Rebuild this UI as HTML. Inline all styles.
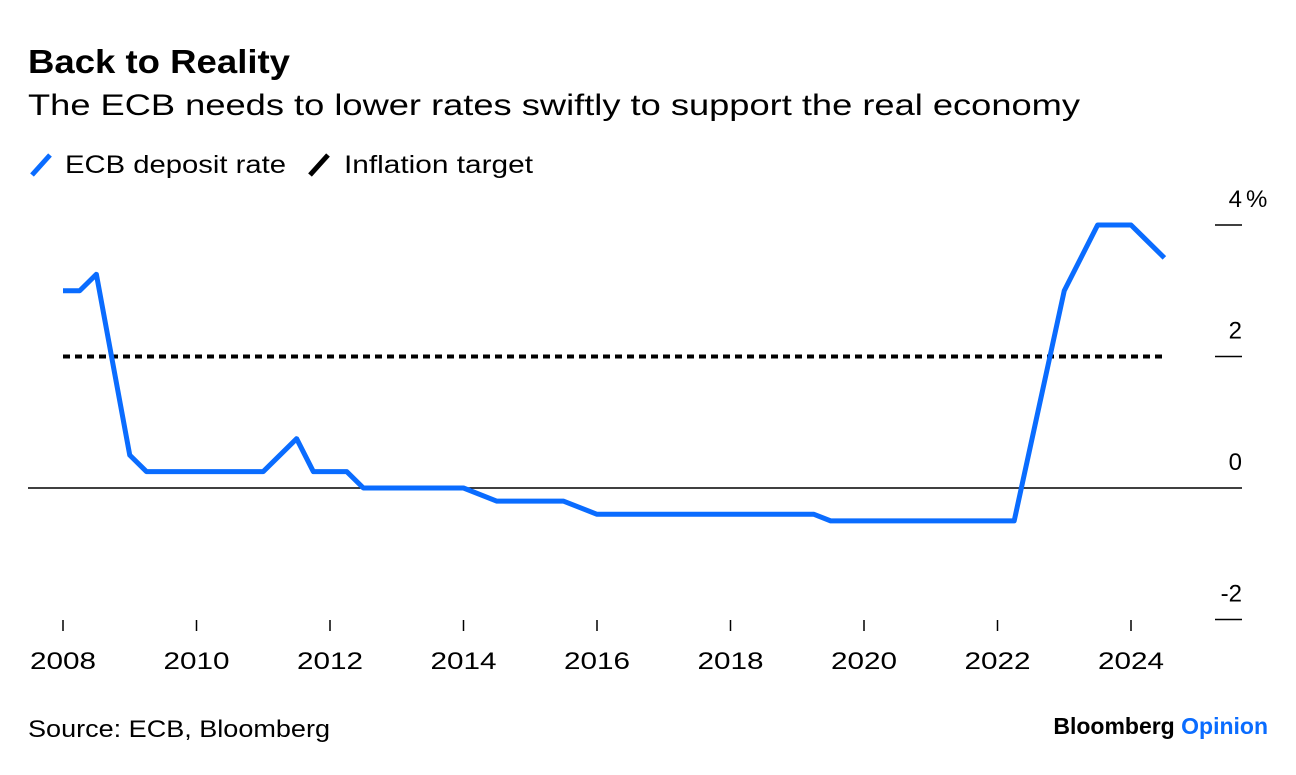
<!DOCTYPE html>
<html><head><meta charset="utf-8"><style>
body{margin:0;background:#fff;width:1296px;height:770px;overflow:hidden;font-family:"Liberation Sans",sans-serif;}
svg text{font-family:"Liberation Sans",sans-serif;}
</style></head><body>
<svg width="1296" height="770">
<text x="28" y="73" font-size="33" font-weight="bold" fill="#000" textLength="262" lengthAdjust="spacingAndGlyphs">Back to Reality</text>
<text x="28" y="115" font-size="30" fill="#000" textLength="1052" lengthAdjust="spacingAndGlyphs">The ECB needs to lower rates swiftly to support the real economy</text>
<g>
<line x1="32" y1="175" x2="50" y2="155" stroke="#0a6cff" stroke-width="5"/>
<text x="65" y="173" font-size="25" textLength="221" lengthAdjust="spacingAndGlyphs">ECB deposit rate</text>
<line x1="310" y1="175" x2="328" y2="155" stroke="#000" stroke-width="5"/>
<text x="344" y="173" font-size="25" textLength="189" lengthAdjust="spacingAndGlyphs">Inflation target</text>
</g>
<g id="axes"></g>
<g id="marks"></g>
<text x="28" y="737" font-size="24" textLength="302" lengthAdjust="spacingAndGlyphs">Source: ECB, Bloomberg</text>
<text x="1268" y="734" font-size="23" font-weight="bold" text-anchor="end"><tspan fill="#000">Bloomberg </tspan><tspan fill="#0a6cff">Opinion</tspan></text>
</svg>
<script>
const years=[2008,2008.25,2008.5,2009,2009.25,2011,2011.5,2011.75,2012.25,2012.5,2014,2014.5,2015.5,2016,2019.25,2019.5,2022.25,2023,2023.5,2024,2024.25,2024.5];
const rates=[3.0,3.0,3.25,0.5,0.25,0.25,0.75,0.25,0.25,0,0,-0.2,-0.2,-0.4,-0.4,-0.5,-0.5,3.0,4.0,4.0,3.75,3.5];
const targetYears=[2008,2024.5];
const targetValues=[2,2];
const yTicks=[4,2,0,-2];
const yTickLabels=["4","2","0","-2"];
const xTicks=[2008,2010,2012,2014,2016,2018,2020,2022,2024];
const NS="http://www.w3.org/2000/svg";
const xs=y=>63+(y-2008)*66.75;
const ys=v=>488-v*65.75;
function mk(tag,attrs,parent){const e=document.createElementNS(NS,tag);for(const k in attrs)e.setAttribute(k,attrs[k]);document.getElementById(parent).appendChild(e);return e;}
yTicks.forEach((v,i)=>{
 if(v===0){const l=mk('line',{x1:28,x2:1242,y1:ys(v),y2:ys(v),stroke:'#000','stroke-width':1.5},'axes');
  
  }
 else{const l=mk('line',{x1:1215,x2:1242,y1:ys(v),y2:ys(v),stroke:'#000','stroke-width':1.5},'axes');
  
  }
 const t=mk('text',{x:1242,y:ys(v)-18,'font-size':24,'text-anchor':'end'},'axes');t.textContent=yTickLabels[i];
 
 
 if(i===0){const p=mk('text',{x:1246,y:ys(v)-18,'font-size':24},'axes');p.textContent='%';
  
  }
});
xTicks.forEach(y=>{
 const l=mk('line',{x1:xs(y),x2:xs(y),y1:620,y2:631,stroke:'#000','stroke-width':1.5},'axes');
 
 
 const t=mk('text',{x:xs(y)-33,y:669,'font-size':24,textLength:66,lengthAdjust:'spacingAndGlyphs'},'axes');t.textContent=y;
 
 
});
const tl=mk('polyline',{points:targetYears.map((y,i)=>xs(y)+','+ys(targetValues[i])).join(' '),fill:'none',stroke:'#000','stroke-width':4,'stroke-dasharray':'7 5'},'marks');


const rl=mk('polyline',{points:years.map((y,i)=>xs(y)+','+ys(rates[i])).join(' '),fill:'none',stroke:'#0a6cff','stroke-width':5,'stroke-linejoin':'round'},'marks');


</script>
</body></html>
